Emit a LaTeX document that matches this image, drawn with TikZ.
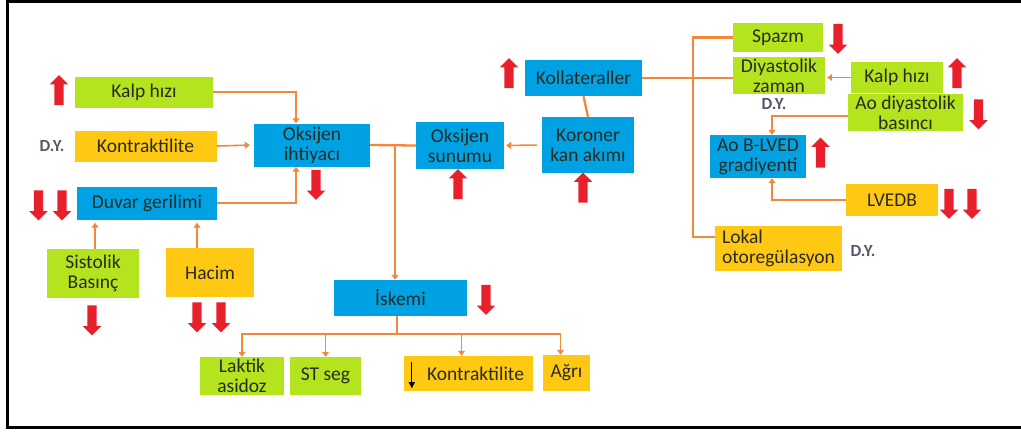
\documentclass[tikz,border=0pt]{standalone}
\usepackage{fontspec}
\setmainfont{Carlito}
\usetikzlibrary{arrows.meta,shapes.arrows}
\definecolor{yesil}{HTML}{B4E41E}
\definecolor{mavi}{HTML}{00A2E3}
\definecolor{sari}{HTML}{FFC913}
\definecolor{turuncu}{HTML}{F3873A}
\definecolor{kirmizi}{HTML}{E8202B}
\definecolor{yazi}{HTML}{2A2A22}
\definecolor{gri}{HTML}{555766}
\begin{document}
\begin{tikzpicture}[x=1pt,y=-1pt,>={Triangle[width=7pt,length=5pt]},font=\fontsize{19.5}{20}\selectfont]
  \tikzset{box/.style 2 args={minimum width=#1pt, minimum height=#2pt, inner sep=1pt, align=center, text=yazi},
    gbox/.style 2 args={box={#1}{#2}, fill=yesil},
    bbox/.style 2 args={box={#1}{#2}, fill=mavi},
    ybox/.style 2 args={box={#1}{#2}, fill=sari},
    yukari/.style={single arrow, fill=kirmizi, shape border rotate=90, minimum height=30pt, inner sep=4.5pt, single arrow head extend=4.5pt, single arrow head indent=0pt},
    asagi/.style={yukari, shape border rotate=270},
    dy/.style={text=gri, font=\fontsize{17}{18}\selectfont\bfseries},
    ok/.style={->, draw=turuncu, line width=1.6pt},
    hat/.style={draw=turuncu, line width=2.3pt}}
  \useasboundingbox (0,0) rectangle (1021,432);
  \draw[line width=3pt] (1021,1.5) -- (7,1.5) -- (7,427) -- (1021,427);
  % left side
  \node[gbox={138}{31}] (kalpL) at (144,92) {Kalp hızı};
  \node[ybox={142}{31}] (kontrL) at (145.5,146) {Kontraktilite};
  \node[bbox={116}{43}] (ihtiyac) at (312,145) {Oksijen\\ihtiyacı};
  \node[bbox={140}{33}] (duvar) at (147,203) {Duvar gerilimi};
  \node[gbox={92}{49}] (sistolik) at (93,273.5) {Sistolik\\Basınç};
  \node[ybox={88}{49}] (hacim) at (210,272.5) {Hacim};
  \node[dy] (dyL) at (52,146) {D.Y.};
  % middle
  \node[bbox={88}{47}] (sunum) at (460,145.5) {Oksijen\\sunumu};
  \node[bbox={92}{56}] (koroner) at (588,145) {Koroner\\kan akımı};
  \node[bbox={117}{36}] (kollat) at (583.5,78) {Kollateraller};
  \node[bbox={133}{36}] (iskemi) at (400.5,298) {İskemi};
  \node[gbox={84}{38}] (laktik) at (242,376) {Laktik\\asidoz};
  \node[gbox={71}{38}] (stseg) at (325.5,376) {ST seg};
  \node[ybox={129}{35}] (kontrB) at (468.5,373.5) {\hspace*{14pt}Kontraktilite};
  \node[ybox={47}{36}] (agri) at (566.5,373) {Ağrı};
  % right side
  \node[gbox={90}{29}] (spazm) at (778,37.5) {Spazm};
  \node[gbox={92}{37}] (diyast) at (779,75.5) {Diyastolik\\zaman};
  \node[gbox={92}{31}] (kalpR) at (897,77.5) {Kalp hızı};
  \node[gbox={115}{37}] (aodiy) at (905.5,112.5) {Ao diyastolik\\basıncı};
  \node[bbox={96}{43}] (gradyent) at (758,156.5) {Ao B-LVED\\gradiyenti};
  \node[ybox={92}{32}] (lvedb) at (892,200) {LVEDB};
  \node[ybox={127}{45}, align=left] (lokal) at (778.5,248.5) {Lokal\\otoregülasyon};
  \node[dy] (dyM) at (774,104) {D.Y.};
  \node[dy] (dyR) at (863,251) {D.Y.};
  % red arrows
  \node[yukari] at (59,92.5) {};
  \node[asagi] at (38.5,203) {};
  \node[asagi] at (62,203) {};
  \node[asagi] at (316,182.5) {};
  \node[yukari] at (458,186.5) {};
  \node[yukari] at (583,190) {};
  \node[yukari] at (509,75.5) {};
  \node[asagi] at (92,318) {};
  \node[asagi] at (197,315) {};
  \node[asagi] at (221,315) {};
  \node[asagi] at (486,297.5) {};
  \node[asagi] at (838,36.5) {};
  \node[yukari] at (957,75.5) {};
  \node[asagi] at (978.5,112) {};
  \node[yukari] at (820.5,155) {};
  \node[asagi] at (949,201.5) {};
  \node[asagi] at (972,201.5) {};
  % black arrow in the box
  \draw[line width=1pt, -{Triangle[width=6pt,length=6pt]}] ([xshift=8pt,yshift=-6pt]kontrB.north west) -- ([xshift=8pt,yshift=3pt]kontrB.south west);
  % connectors
  \coordinate (j1) at (395,145);
  \coordinate (j2) at (397,334);
  \coordinate (bus) at (693,140);
  \draw[ok] (kalpL.east) -| ([xshift=-16pt]ihtiyac.north);
  \draw[ok, shorten >=4pt] (kontrL.east) -- (ihtiyac.west);
  \draw[ok] (duvar.east) -| ([xshift=-16pt]ihtiyac.south);
  \draw[ok, shorten >=3pt] ([xshift=2pt]sistolik.north) -- ([xshift=2pt]sistolik.north |- duvar.south);
  \draw[ok, shorten >=3pt] ([xshift=-13pt]hacim.north) -- ([xshift=-13pt]hacim.north |- duvar.south);
  \draw[hat] (ihtiyac.east) -- (sunum.west);
  \draw[ok] (j1) -- (j1 |- iskemi.north);
  \draw[ok, shorten <=5pt, shorten >=2pt] (koroner.west) -- (sunum.east);
  \draw[hat] (kollat.south) -- (koroner.north);
  \draw[hat] (kollat.east) -- (kollat.east -| diyast.west);
  \draw[hat] (spazm.west) -| (bus) |- ([yshift=11.5pt]lokal.west);
  \draw[ok, shorten >=2pt] (kalpR.west) -- (kalpR.west -| diyast.east);
  \draw[ok] ([yshift=-3.5pt]aodiy.west) -| ([xshift=14pt]gradyent.north);
  \draw[ok] (lvedb.west) -| ([xshift=14pt]gradyent.south);
  \draw[hat] (j2 |- iskemi.south) -- (j2);
  \draw[ok] (j2) -| (laktik.north);
  \draw[ok] (j2) -| (stseg.north);
  \draw[ok] (j2) -| ([xshift=-7pt]kontrB.north);
  \draw[ok] (j2) -| ([xshift=-6pt]agri.north);
\end{tikzpicture}
\end{document}
